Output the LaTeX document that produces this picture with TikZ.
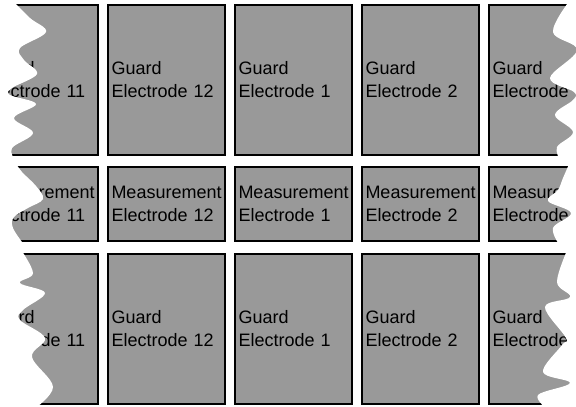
\documentclass[tikz,border=0pt]{standalone}
\usepackage{fontspec}
\setmainfont{Liberation Sans}
\definecolor{elgray}{RGB}{153,153,153}
\tikzset{
  electrode/.style={rectangle, draw=black, line width=2pt, fill=elgray,
    minimum width=117pt, text width=110pt, inner xsep=3.5pt, align=left,
    font=\fontsize{18}{23}\selectfont},
  guard/.style={electrode, minimum height=150pt},
  measure/.style={electrode, minimum height=74pt},
  tear/.style={fill=white, draw=none}
}
\begin{document}
\begin{tikzpicture}[x=1pt, y=-1pt]
\useasboundingbox (0,0) rectangle (576,407);
\clip (0,0) rectangle (576,407);

% guard electrodes, upper row
\node[guard] (top11) at (39.5,80) {Guard\\Electrode 11};
\node[guard] (top12) at (166.5,80) {Guard\\Electrode 12};
\node[guard] (top1) at (293.5,80) {Guard\\Electrode 1};
\node[guard] (top2) at (420.5,80) {Guard\\Electrode 2};
\node[guard] (top3) at (547.5,80) {Guard\\Electrode};

% measurement electrodes
\node[measure] (mid11) at (39.5,204) {Measurement\\Electrode 11};
\node[measure] (mid12) at (166.5,204) {Measurement\\Electrode 12};
\node[measure] (mid1) at (293.5,204) {Measurement\\Electrode 1};
\node[measure] (mid2) at (420.5,204) {Measurement\\Electrode 2};
\node[measure] (mid3) at (547.5,204) {Measurement\\Electrode};

% guard electrodes, lower row
\node[guard] (bot11) at (39.5,329) {Guard\\Electrode 11};
\node[guard] (bot12) at (166.5,329) {Guard\\Electrode 12};
\node[guard] (bot1) at (293.5,329) {Guard\\Electrode 1};
\node[guard] (bot2) at (420.5,329) {Guard\\Electrode 2};
\node[guard] (bot3) at (547.5,329) {Guard\\Electrode};

% torn edge, left
\fill[tear] (-5,0) -- plot[smooth, tension=0.6] coordinates {(12,0) (30,18) (46,32) (20,48) (24,60) (37,74) (12,88) (10,95) (36,104) (14,118) (33,133) (12,148) (15,160)} -- (-5,160) -- cycle;
\fill[tear] (-5,162) -- plot[smooth, tension=0.6] coordinates {(15,162) (22,172) (36,186) (43,199) (28,208) (14,217) (13,228) (25,246)} -- (-5,246) -- cycle;
\fill[tear] (-5,248) -- plot[smooth, tension=0.6] coordinates {(20,248) (33,273) (20,283) (45,293) (23,310) (20,320) (45,338) (32,357) (53,387) (33,410)} -- (-5,410) -- cycle;

% torn edge, right
\fill[tear] (580,0) -- plot[smooth, tension=0.6] coordinates {(570,0) (553,32) (577,50) (550,78) (574,92) (573,100) (555,115) (573,132) (557,147) (560,160)} -- (580,160) -- cycle;
\fill[tear] (580,162) -- plot[smooth, tension=0.6] coordinates {(570,162) (563,178) (558,190) (548,201) (571,213) (553,228) (560,246)} -- (580,246) -- cycle;
\fill[tear] (580,248) -- plot[smooth, tension=0.6] coordinates {(568,248) (557,282) (570,297) (545,307) (566,338) (562,345) (543,372) (570,383) (538,395) (548,410)} -- (580,410) -- cycle;
\end{tikzpicture}
\end{document}
